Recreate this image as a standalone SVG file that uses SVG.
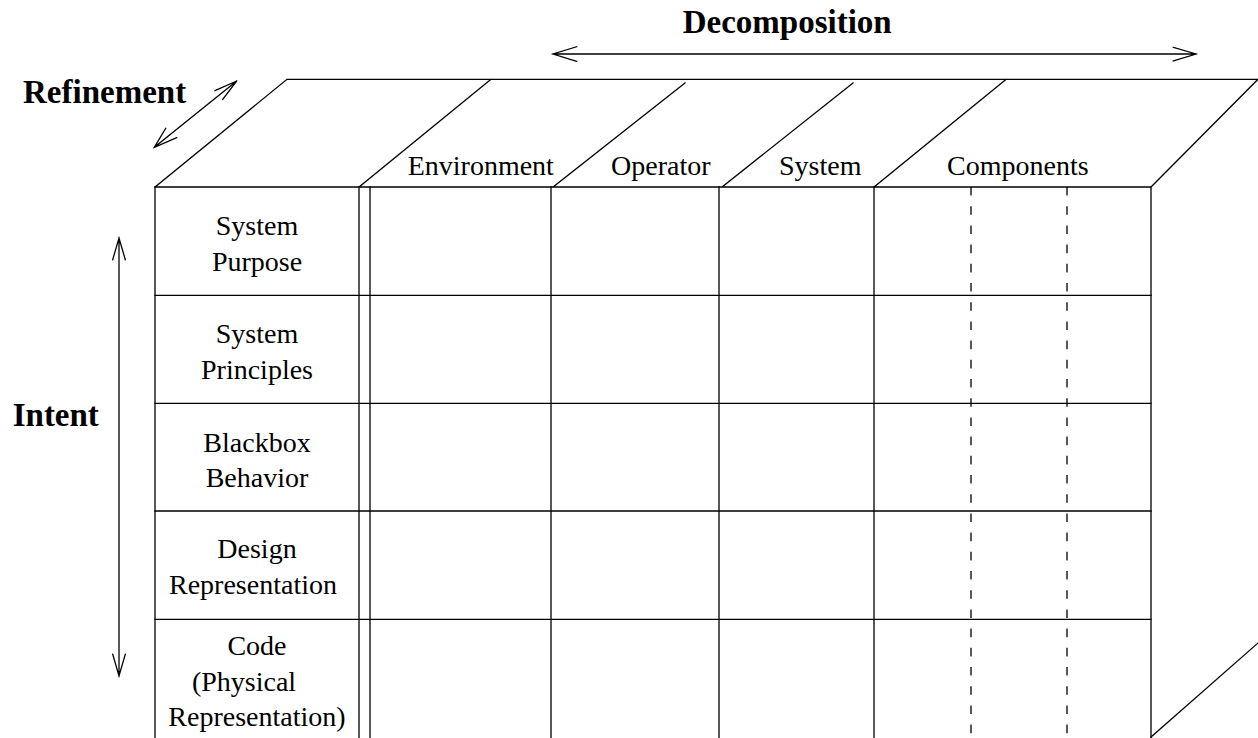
<svg xmlns="http://www.w3.org/2000/svg" width="1258" height="738" viewBox="0 0 1258 738">
<style>
.ln{stroke:#000;stroke-width:1.3;fill:none;stroke-linecap:square}
.dash{stroke:#000;stroke-width:1.3;fill:none;stroke-dasharray:8.6 10.6}
.lbl{font-family:"Liberation Serif","Times New Roman",serif;font-size:28px;fill:#000}
.ttl{font-family:"Liberation Serif","Times New Roman",serif;font-size:33px;font-weight:bold;fill:#000}
.mid{text-anchor:middle}
</style>
<rect width="1258" height="738" fill="#fff"/>
<g id="box">
<path class="ln" d="M155,187 L287,79.3 L1258,79.3 M155,187 L1151,187 L1258,79.3 M359,187 L491,79.3 M553,187 L685,83 M722,187 L853,83 M874,187 L1006,79.3"/>
<path class="ln" d="M155,187 V738 M359,187 V738 M370,187 V738 M551,187 V738 M719,187 V738 M874,187 V738 M1151,187 V738"/>
<path class="ln" d="M155,295.3 H1151 M155,403.3 H1151 M155,511 H1151 M155,619.3 H1151"/>
<path class="dash" d="M971,187 V738 M1067,187 V738"/>
<path class="ln" d="M1151,737 L1258,643"/>
</g>
<g id="columns">
<text class="lbl" x="407.7" y="175">Environment</text>
<text class="lbl" x="611" y="175">Operator</text>
<text class="lbl" x="779" y="175">System</text>
<text class="lbl" x="947" y="175">Components</text>
</g>
<g id="rows">
<text class="lbl mid" x="257" y="235">System</text>
<text class="lbl mid" x="257" y="271">Purpose</text>
<text class="lbl mid" x="257" y="342.7">System</text>
<text class="lbl mid" x="257" y="379">Principles</text>
<text class="lbl mid" x="257" y="451.7">Blackbox</text>
<text class="lbl mid" x="257" y="487.3">Behavior</text>
<text class="lbl mid" x="257" y="558.3">Design</text>
<text class="lbl mid" x="253" y="594.3">Representation</text>
<text class="lbl mid" x="257" y="655">Code</text>
<text class="lbl mid" x="244" y="690.7">(Physical</text>
<text class="lbl mid" x="257" y="726">Representation)</text>
</g>
<g id="axes">
<text class="ttl" x="682.7" y="33">Decomposition</text>
<text class="ttl" x="23" y="102.7">Refinement</text>
<text class="ttl" x="12.7" y="426">Intent</text>
<path class="ln" d="M553,54 H1196 M576.7,46.7 L553,54 L576.7,61.3 M1173.3,47.3 L1196,54 L1173.3,61"/>
<path class="ln" d="M154.3,147.3 L236.7,81 M215,90.7 L236.7,81 L222.7,99.3 M176.7,137.7 L154.3,147.3 L165.7,128.3"/>
<path class="ln" d="M119,238 V676 M112.7,259.7 L119,238 L125.3,259.7 M112.7,654.3 L119,676 L125.3,654.3"/>
</g>
</svg>
